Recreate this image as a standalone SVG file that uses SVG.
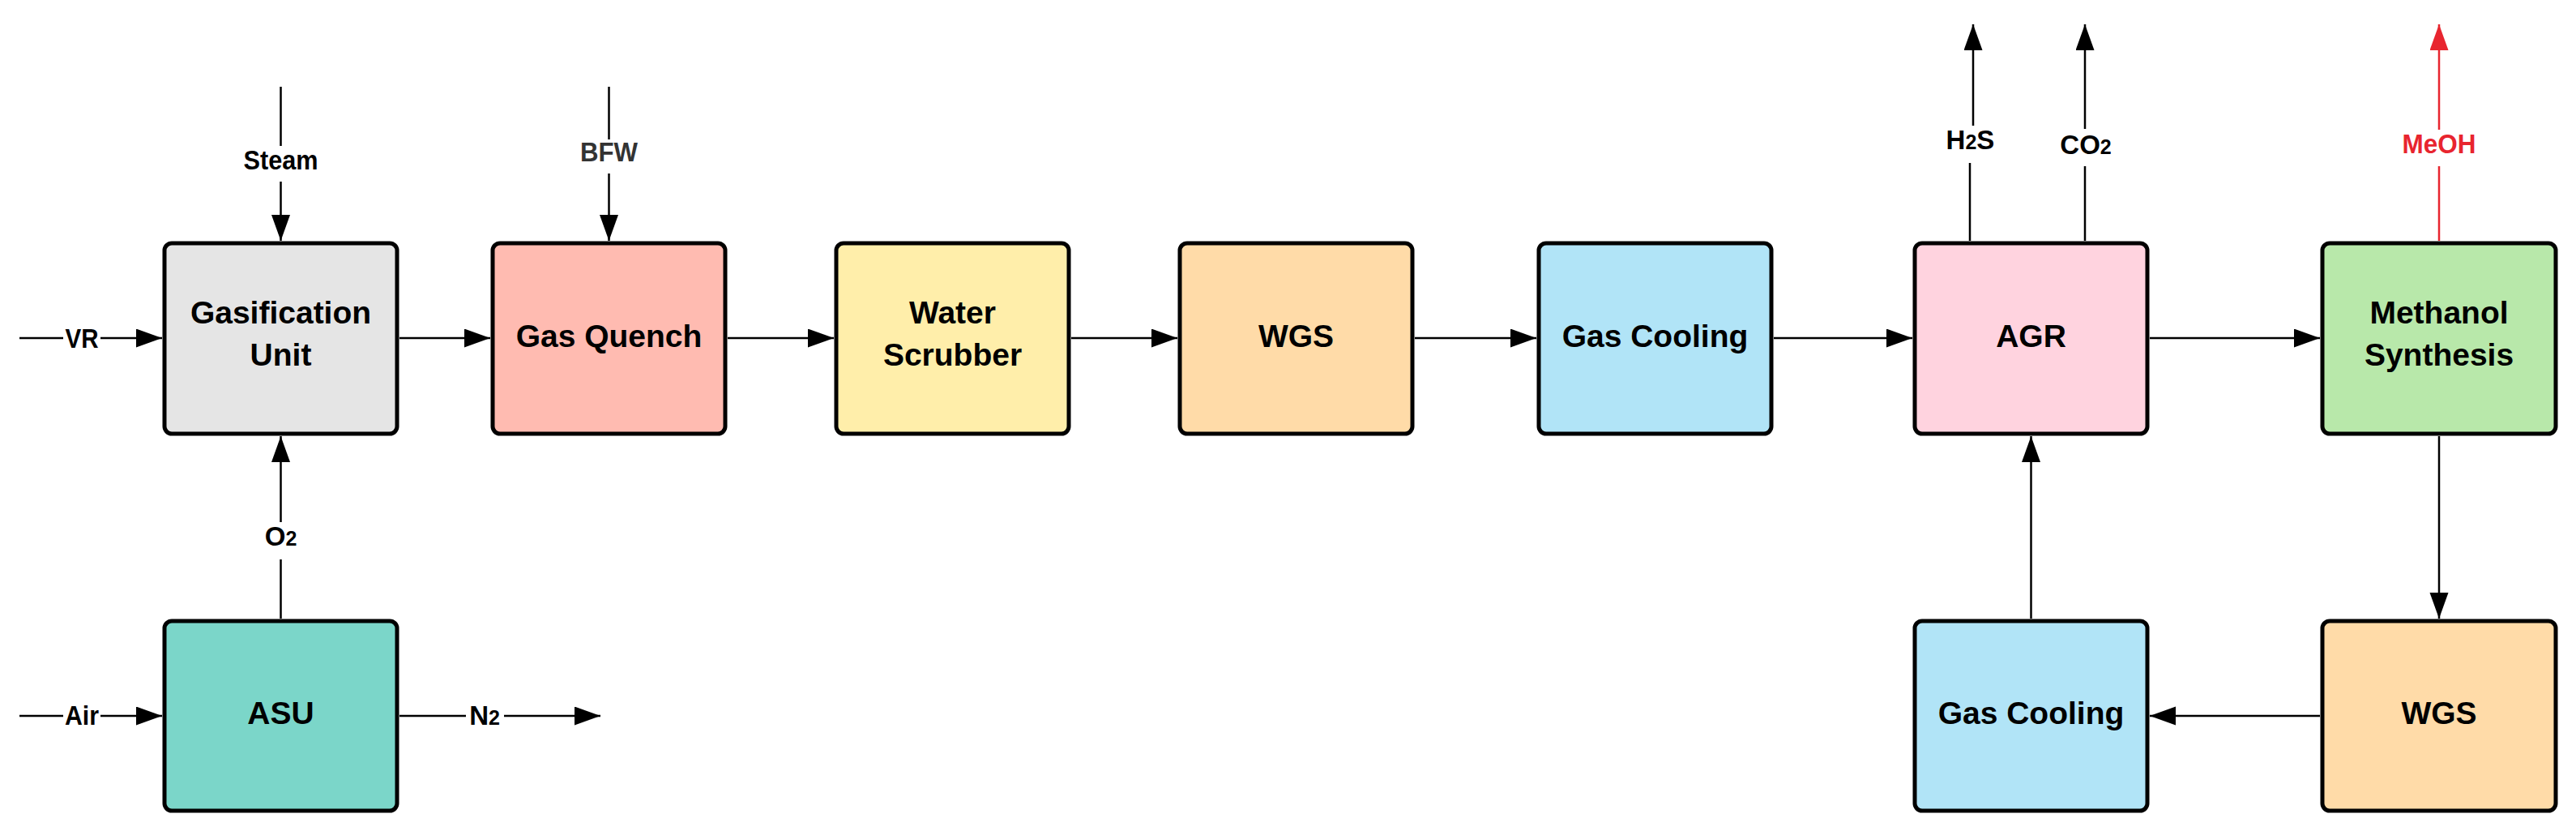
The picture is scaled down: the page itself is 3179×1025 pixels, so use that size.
<svg xmlns="http://www.w3.org/2000/svg" width="3179" height="1025" viewBox="0 0 3179 1025">
<style>
.box{stroke:#000;stroke-width:5}
.t{font-family:"Liberation Sans",Arial,sans-serif;font-weight:bold;font-size:39px;fill:#000;text-anchor:middle}
.l{font-family:"Liberation Sans",Arial,sans-serif;font-weight:bold;font-size:33px;fill:#000;text-anchor:middle}
.sub{font-size:25px}
.c{fill:none;stroke:#000;stroke-width:2.5}
.red{stroke:#e8252f}
</style>
<defs>
<marker id="ah" markerUnits="userSpaceOnUse" markerWidth="34" markerHeight="24" refX="32" refY="11.5" orient="auto">
<path d="M0,0 L32,11.5 L0,23 Z" fill="#000"/>
</marker>
<marker id="ahr" markerUnits="userSpaceOnUse" markerWidth="34" markerHeight="24" refX="32" refY="11.5" orient="auto">
<path d="M0,0 L32,11.5 L0,23 Z" fill="#e8252f"/>
</marker>
</defs>
<rect width="3179" height="1025" fill="#fff"/>
<g id="connectors">
<path class="c" d="M24,417 H78 M124,417 H200" marker-end="url(#ah)"/>
<path class="c" d="M493,417 H605" marker-end="url(#ah)"/>
<path class="c" d="M898,417 H1029" marker-end="url(#ah)"/>
<path class="c" d="M1322,417 H1453" marker-end="url(#ah)"/>
<path class="c" d="M1746,417 H1896" marker-end="url(#ah)"/>
<path class="c" d="M2189,417 H2360" marker-end="url(#ah)"/>
<path class="c" d="M2653,417 H2863" marker-end="url(#ah)"/>
<path class="c" d="M346.5,107 V180 M346.5,224 V297" marker-end="url(#ah)"/>
<path class="c" d="M751.5,107 V172 M751.5,214 V297" marker-end="url(#ah)"/>
<path class="c" d="M346.5,763 V690 M346.5,644 V538" marker-end="url(#ah)"/>
<path class="c" d="M24,883 H78 M124,883 H200" marker-end="url(#ah)"/>
<path class="c" d="M493,883 H575 M622,883 H741" marker-end="url(#ah)"/>
<path class="c" d="M2431,297 V201 M2435,155 V30" marker-end="url(#ah)"/>
<path class="c" d="M2573,297 V205 M2573,159 V30" marker-end="url(#ah)"/>
<path class="c red" d="M3010,297 V205 M3010,160 V30" marker-end="url(#ahr)"/>
<path class="c" d="M3010,538 V763" marker-end="url(#ah)"/>
<path class="c" d="M2863,883 H2653" marker-end="url(#ah)"/>
<path class="c" d="M2506.5,763 V538" marker-end="url(#ah)"/>
<text class="l" x="101" y="429" textLength="41" lengthAdjust="spacingAndGlyphs">VR</text>
<text class="l" x="346.5" y="209" textLength="92" lengthAdjust="spacingAndGlyphs">Steam</text>
<text class="l" x="751.5" y="199" style="fill:#333" textLength="71" lengthAdjust="spacingAndGlyphs">BFW</text>
<text class="l" x="346.5" y="673">O<tspan class="sub">2</tspan></text>
<text class="l" x="101" y="894" textLength="42" lengthAdjust="spacingAndGlyphs">Air</text>
<text class="l" x="598" y="894">N<tspan class="sub">2</tspan></text>
<text class="l" x="2431.5" y="184">H<tspan class="sub">2</tspan>S</text>
<text class="l" x="2574" y="190">CO<tspan class="sub">2</tspan></text>
<text class="l" x="3010" y="189" style="fill:#e8252f" textLength="91" lengthAdjust="spacingAndGlyphs">MeOH</text>
</g>
<g id="gasification">
<rect class="box" x="203" y="300" width="287" height="235" rx="9" fill="#e5e5e5"/>
<text class="t" x="346.5" y="399">Gasification</text>
<text class="t" x="346.5" y="451">Unit</text>
</g>
<g id="gas-quench">
<rect class="box" x="608" y="300" width="287" height="235" rx="9" fill="#ffbbb1"/>
<text class="t" x="751.5" y="428">Gas Quench</text>
</g>
<g id="water-scrubber">
<rect class="box" x="1032" y="300" width="287" height="235" rx="9" fill="#ffeeaa"/>
<text class="t" x="1175.5" y="399">Water</text>
<text class="t" x="1175.5" y="451">Scrubber</text>
</g>
<g id="wgs-1">
<rect class="box" x="1456" y="300" width="287" height="235" rx="9" fill="#ffdba8"/>
<text class="t" x="1599.5" y="428">WGS</text>
</g>
<g id="gas-cooling-1">
<rect class="box" x="1899" y="300" width="287" height="235" rx="9" fill="#b1e4f7"/>
<text class="t" x="2042.5" y="428">Gas Cooling</text>
</g>
<g id="agr">
<rect class="box" x="2363" y="300" width="287" height="235" rx="9" fill="#ffd3df"/>
<text class="t" x="2506.5" y="428">AGR</text>
</g>
<g id="methanol-synthesis">
<rect class="box" x="2866" y="300" width="288" height="235" rx="9" fill="#b8e8aa"/>
<text class="t" x="3010" y="399">Methanol</text>
<text class="t" x="3010" y="451">Synthesis</text>
</g>
<g id="asu">
<rect class="box" x="203" y="766" width="287" height="234" rx="9" fill="#7bd6c9"/>
<text class="t" x="346.5" y="893">ASU</text>
</g>
<g id="gas-cooling-2">
<rect class="box" x="2363" y="766" width="287" height="234" rx="9" fill="#b1e4f7"/>
<text class="t" x="2506.5" y="893">Gas Cooling</text>
</g>
<g id="wgs-2">
<rect class="box" x="2866" y="766" width="288" height="234" rx="9" fill="#ffdba8"/>
<text class="t" x="3010" y="893">WGS</text>
</g>
</svg>
